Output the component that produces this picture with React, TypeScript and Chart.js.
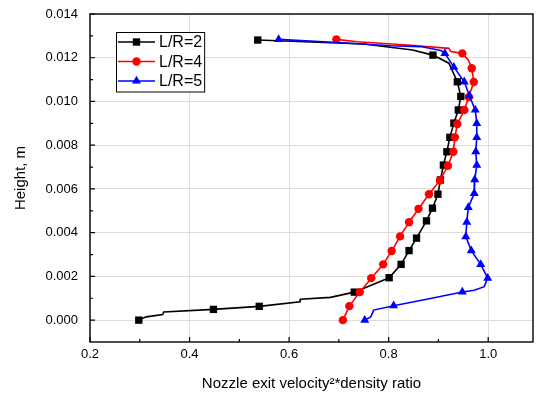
import React, { useEffect, useRef } from "react";
import { Chart, registerables } from "chart.js";
Chart.register(...registerables);

const seriesLabels = ["L/R=2", "L/R=4", "L/R=5"];
const xTitle = "Nozzle exit velocity\u00B2*density ratio";
const yTitle = "Height, m";

// L/R=2 : marker points
const l2MarkX = [0.537, 0.889, 0.938, 0.945, 0.940, 0.931, 0.923, 0.917, 0.910, 0.904, 0.899, 0.888, 0.876, 0.856, 0.841, 0.825, 0.801, 0.731, 0.540, 0.448, 0.298];
const l2MarkY = [0.01281, 0.01212, 0.01090, 0.01023, 0.00961, 0.00901, 0.00836, 0.00770, 0.00709, 0.00641, 0.00576, 0.00512, 0.00454, 0.00375, 0.00318, 0.00255, 0.00194, 0.00128, 0.00063, 0.00049, 0.0];
// L/R=2 : extra points on the connecting line
const l2LineX = [0.750, 0.848, 0.921, 0.683, 0.623, 0.622, 0.348, 0.346, 0.313];
const l2LineY = [0.01263, 0.01235, 0.01175, 0.00104, 0.00096, 0.00084, 0.00037, 0.00026, 0.00015];

// L/R=4
const l4MarkX = [0.695, 0.948, 0.967, 0.971, 0.961, 0.952, 0.938, 0.933, 0.930, 0.919, 0.903, 0.881, 0.860, 0.841, 0.823, 0.806, 0.789, 0.765, 0.742, 0.721, 0.708];
const l4MarkY = [0.01284, 0.01220, 0.01152, 0.01089, 0.01020, 0.00961, 0.00897, 0.00836, 0.00770, 0.00706, 0.00639, 0.00576, 0.00509, 0.00448, 0.00383, 0.00316, 0.00255, 0.00192, 0.00128, 0.00064, 0.0];
const l4LineX = [0.737, 0.838, 0.921, 0.925, 0.960];
const l4LineY = [0.01273, 0.01258, 0.01243, 0.01228, 0.01190];

// L/R=5
const l5MarkX = [0.579, 0.913, 0.931, 0.952, 0.962, 0.974, 0.977, 0.977, 0.975, 0.977, 0.973, 0.972, 0.960, 0.957, 0.955, 0.966, 0.985, 0.999, 0.948, 0.810, 0.752];
const l5MarkY = [0.01284, 0.01220, 0.01157, 0.01090, 0.01027, 0.00961, 0.00900, 0.00836, 0.00770, 0.00709, 0.00643, 0.00580, 0.00515, 0.00448, 0.00382, 0.00318, 0.00255, 0.00192, 0.00129, 0.00066, 0.0];
const l5LineX = [0.697, 0.804, 0.864, 0.905, 0.992, 0.972, 0.884, 0.770, 0.764];
const l5LineY = [0.01270, 0.01255, 0.01251, 0.01233, 0.00153, 0.00137, 0.00099, 0.00046, 0.00015];

const xTicksMajor = [0.2, 0.4, 0.6, 0.8, 1.0];
const xTicksMinor = [0.3, 0.5, 0.7, 0.9];
const yTicksMajor = [0.0, 0.002, 0.004, 0.006, 0.008, 0.010, 0.012, 0.014];
const yTicksMinor = [0.001, 0.003, 0.005, 0.007, 0.009, 0.011, 0.013];

const colors = ["#000000", "#ff0000", "#0000ff"];
const styles = ["rect", "circle", "triangle"];
const radii = [5.2, 4.2, 5.2];

function buildPath(mx: number[], my: number[], lx: number[], ly: number[]) {
  const pts = mx.map((x, i) => ({ x, y: my[i], m: true }));
  lx.forEach((x, i) => pts.push({ x, y: ly[i], m: false }));
  pts.sort((a, b) => b.y - a.y);
  return pts;
}

const FONT = "Arial, 'Liberation Sans', sans-serif";

const framePlugin = {
  id: "frame",
  afterDatasetsDraw(chart: any) {
    const { ctx, chartArea: a, scales } = chart;
    ctx.save();
    ctx.strokeStyle = "#000";
    ctx.lineWidth = 1.4;
    ctx.strokeRect(a.left, a.top, a.right - a.left, a.bottom - a.top);
    ctx.lineWidth = 1.2;
    ctx.beginPath();
    xTicksMajor.forEach((v) => {
      const px = scales.x.getPixelForValue(v);
      ctx.moveTo(px, a.bottom);
      ctx.lineTo(px, a.bottom - 5);
    });
    xTicksMinor.forEach((v) => {
      const px = scales.x.getPixelForValue(v);
      ctx.moveTo(px, a.bottom);
      ctx.lineTo(px, a.bottom - 3);
    });
    yTicksMajor.forEach((v) => {
      const py = scales.y.getPixelForValue(v);
      ctx.moveTo(a.left, py);
      ctx.lineTo(a.left + 5, py);
    });
    yTicksMinor.forEach((v) => {
      const py = scales.y.getPixelForValue(v);
      ctx.moveTo(a.left, py);
      ctx.lineTo(a.left + 3, py);
    });
    ctx.stroke();
    ctx.restore();
  },
};

function drawMarker(ctx: CanvasRenderingContext2D, style: string, r: number, x: number, y: number) {
  ctx.beginPath();
  if (style === "rect") {
    const s = r * Math.SQRT1_2;
    ctx.rect(x - s, y - s, 2 * s, 2 * s);
  } else if (style === "circle") {
    ctx.arc(x, y, r, 0, Math.PI * 2);
  } else {
    const h = r * 1.5;
    const w = (r * Math.sqrt(3)) / 2;
    ctx.moveTo(x, y - r);
    ctx.lineTo(x + w, y + h - r);
    ctx.lineTo(x - w, y + h - r);
    ctx.closePath();
  }
  ctx.fill();
}

const legendPlugin = {
  id: "customLegend",
  afterDraw(chart: any) {
    const { ctx, chartArea: a } = chart;
    ctx.save();
    ctx.font = `16px ${FONT}`;
    const textW = Math.max(...seriesLabels.map((s) => ctx.measureText(s).width));
    const bx = a.left + 26;
    const by = a.top + 18;
    const lineLen = 37;
    const rowH = 19.5;
    const bw = 2 + lineLen + 4 + textW + 2;
    const bh = rowH * seriesLabels.length + 1;
    ctx.fillStyle = "#fff";
    ctx.fillRect(bx, by, bw, bh);
    ctx.strokeStyle = "#000";
    ctx.lineWidth = 1;
    ctx.strokeRect(bx + 0.5, by + 0.5, bw, bh);
    seriesLabels.forEach((lab, i) => {
      const cy = by + 10 + i * rowH;
      ctx.strokeStyle = colors[i];
      ctx.lineWidth = 1.6;
      ctx.beginPath();
      ctx.moveTo(bx + 2, cy);
      ctx.lineTo(bx + 2 + lineLen, cy);
      ctx.stroke();
      ctx.fillStyle = colors[i];
      drawMarker(ctx, styles[i], radii[i], bx + 2 + lineLen / 2, cy);
      ctx.fillStyle = "#000";
      ctx.textBaseline = "middle";
      ctx.textAlign = "left";
      ctx.fillText(lab, bx + 2 + lineLen + 4, cy + 1);
    });
    ctx.restore();
  },
};

export default function App() {
  const ref = useRef<HTMLCanvasElement>(null);
  useEffect(() => {
    if (!ref.current) return;
    const paths = [
      buildPath(l2MarkX, l2MarkY, l2LineX, l2LineY),
      buildPath(l4MarkX, l4MarkY, l4LineX, l4LineY),
      buildPath(l5MarkX, l5MarkY, l5LineX, l5LineY),
    ];
    const datasets = paths.map((data, i) => ({
      label: seriesLabels[i],
      data,
      showLine: true,
      borderColor: colors[i],
      backgroundColor: colors[i],
      borderWidth: 1.6,
      pointStyle: styles[i],
      pointRadius: (c: any) => (c.raw && c.raw.m ? radii[i] : 0),
      pointBorderWidth: 0,
      pointBackgroundColor: colors[i],
      pointBorderColor: colors[i],
      order: 3 - i,
      tension: 0,
    }));
    const setTicks = (vals: number[]) => (scale: any) => {
      scale.ticks = vals.map((v) => ({ value: v }));
    };
    const chart = new Chart(ref.current, {
      type: "scatter",
      data: { datasets: datasets as any },
      options: {
        animation: false,
        responsive: false,
        maintainAspectRatio: false,
        layout: { padding: { top: 14, right: 7, left: 0, bottom: 0 } },
        plugins: { legend: { display: false }, tooltip: { enabled: false } },
        scales: {
          x: {
            type: "linear",
            min: 0.2,
            max: 1.09,
            ticks: {
              stepSize: 0.2,
              padding: 5,
              color: "#000",
              font: { family: FONT, size: 13 },
              callback: (v: any) => Number(v).toFixed(1),
            },
            grid: { color: "#dcdcdc", lineWidth: 1, drawTicks: false },
            border: { display: false },
            title: {
              display: true,
              text: xTitle,
              color: "#000",
              font: { family: FONT, size: 15 },
              padding: { top: 0, bottom: 3 },
            },
            afterBuildTicks: setTicks(xTicksMajor),
            afterFit: (s: any) => {
              s.height = 54;
              s.paddingLeft = 0;
              s.paddingRight = 0;
            },
          } as any,
          y: {
            type: "linear",
            min: -0.001,
            max: 0.014,
            ticks: {
              stepSize: 0.002,
              padding: 12,
              color: "#000",
              font: { family: FONT, size: 13 },
              callback: (v: any) => Number(v).toFixed(3),
            },
            grid: { color: "#dcdcdc", lineWidth: 1, drawTicks: false },
            border: { display: false },
            title: {
              display: true,
              text: yTitle,
              color: "#000",
              font: { family: FONT, size: 15 },
              padding: { top: 12, bottom: 0 },
            },
            afterBuildTicks: setTicks(yTicksMajor),
            afterFit: (s: any) => {
              s.width = 90;
              s.paddingTop = 0;
              s.paddingBottom = 0;
            },
          } as any,
        },
      },
      plugins: [framePlugin, legendPlugin],
    });
    return () => chart.destroy();
  }, []);
  return (
    <div style={{ position: "absolute", left: 0, top: 0, width: 540, height: 396, background: "#fff" }}>
      <canvas ref={ref} width={540} height={396} />
    </div>
  );
}
